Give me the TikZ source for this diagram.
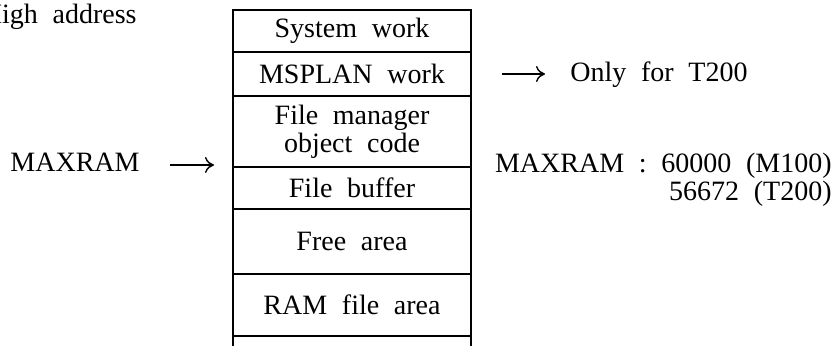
\documentclass[tikz,border=0pt]{standalone}
\usepackage{fontspec}
\setmainfont{Liberation Serif}[WordSpace=2.1]
\usetikzlibrary{positioning, arrows.meta}

\tikzset{
  memrow/.style={draw, line width=0.9pt, minimum width=119pt, inner sep=0pt,
    outer sep=0pt, align=center, font=\fontsize{14}{14}\selectfont},
  note/.style={inner sep=0pt, font=\fontsize{14}{12.5}\selectfont},
  pointer/.style={-{To[length=4.5pt,width=8pt]}, line width=0.7pt}
}

\begin{document}
\begin{tikzpicture}[x=0.5pt,y=-0.5pt]
\useasboundingbox (0,0) rectangle (833,346);
\clip (0,0) rectangle (833,346);

% memory map, top to bottom
\node[memrow, minimum height=21pt, anchor=north] (syswork) at (352,10) {System work};
\node[memrow, minimum height=22pt, below=0pt of syswork] (planwork) {MSPLAN work};
\node[memrow, minimum height=35.5pt, below=0pt of planwork] (objcode) {File manager\\object code};
\node[memrow, minimum height=21pt, below=0pt of objcode] (filebuf) {File buffer};
\node[memrow, minimum height=32.5pt, below=0pt of filebuf] (freearea) {Free area};
\node[memrow, minimum height=31pt, below=0pt of freearea] (ramfile) {RAM file area};
\node[memrow, minimum height=20pt, below=0pt of ramfile] (lowrow) {};

% left side
\node[note, anchor=base east] (highaddr) at (137,24) {High address};
\node[note, anchor=base east] (maxleft) at (140,172) {MAXRAM};
\coordinate (maxtip) at (214,165);
\draw[pointer] ([xshift=15pt]maxleft.east |- maxtip) -- (maxtip);

% right side
\node[note, anchor=west] (t200only) at (570,75) {Only for T200};
\draw[pointer] ([xshift=15.5pt]planwork.east) -- ([xshift=-12.5pt]t200only.west |- planwork.east);
\node[note, align=right, anchor=north east] (maxvals) at (832,153)
  {MAXRAM\ :\ 60000\ (M100)\\56672\ (T200)};
\end{tikzpicture}
\end{document}
